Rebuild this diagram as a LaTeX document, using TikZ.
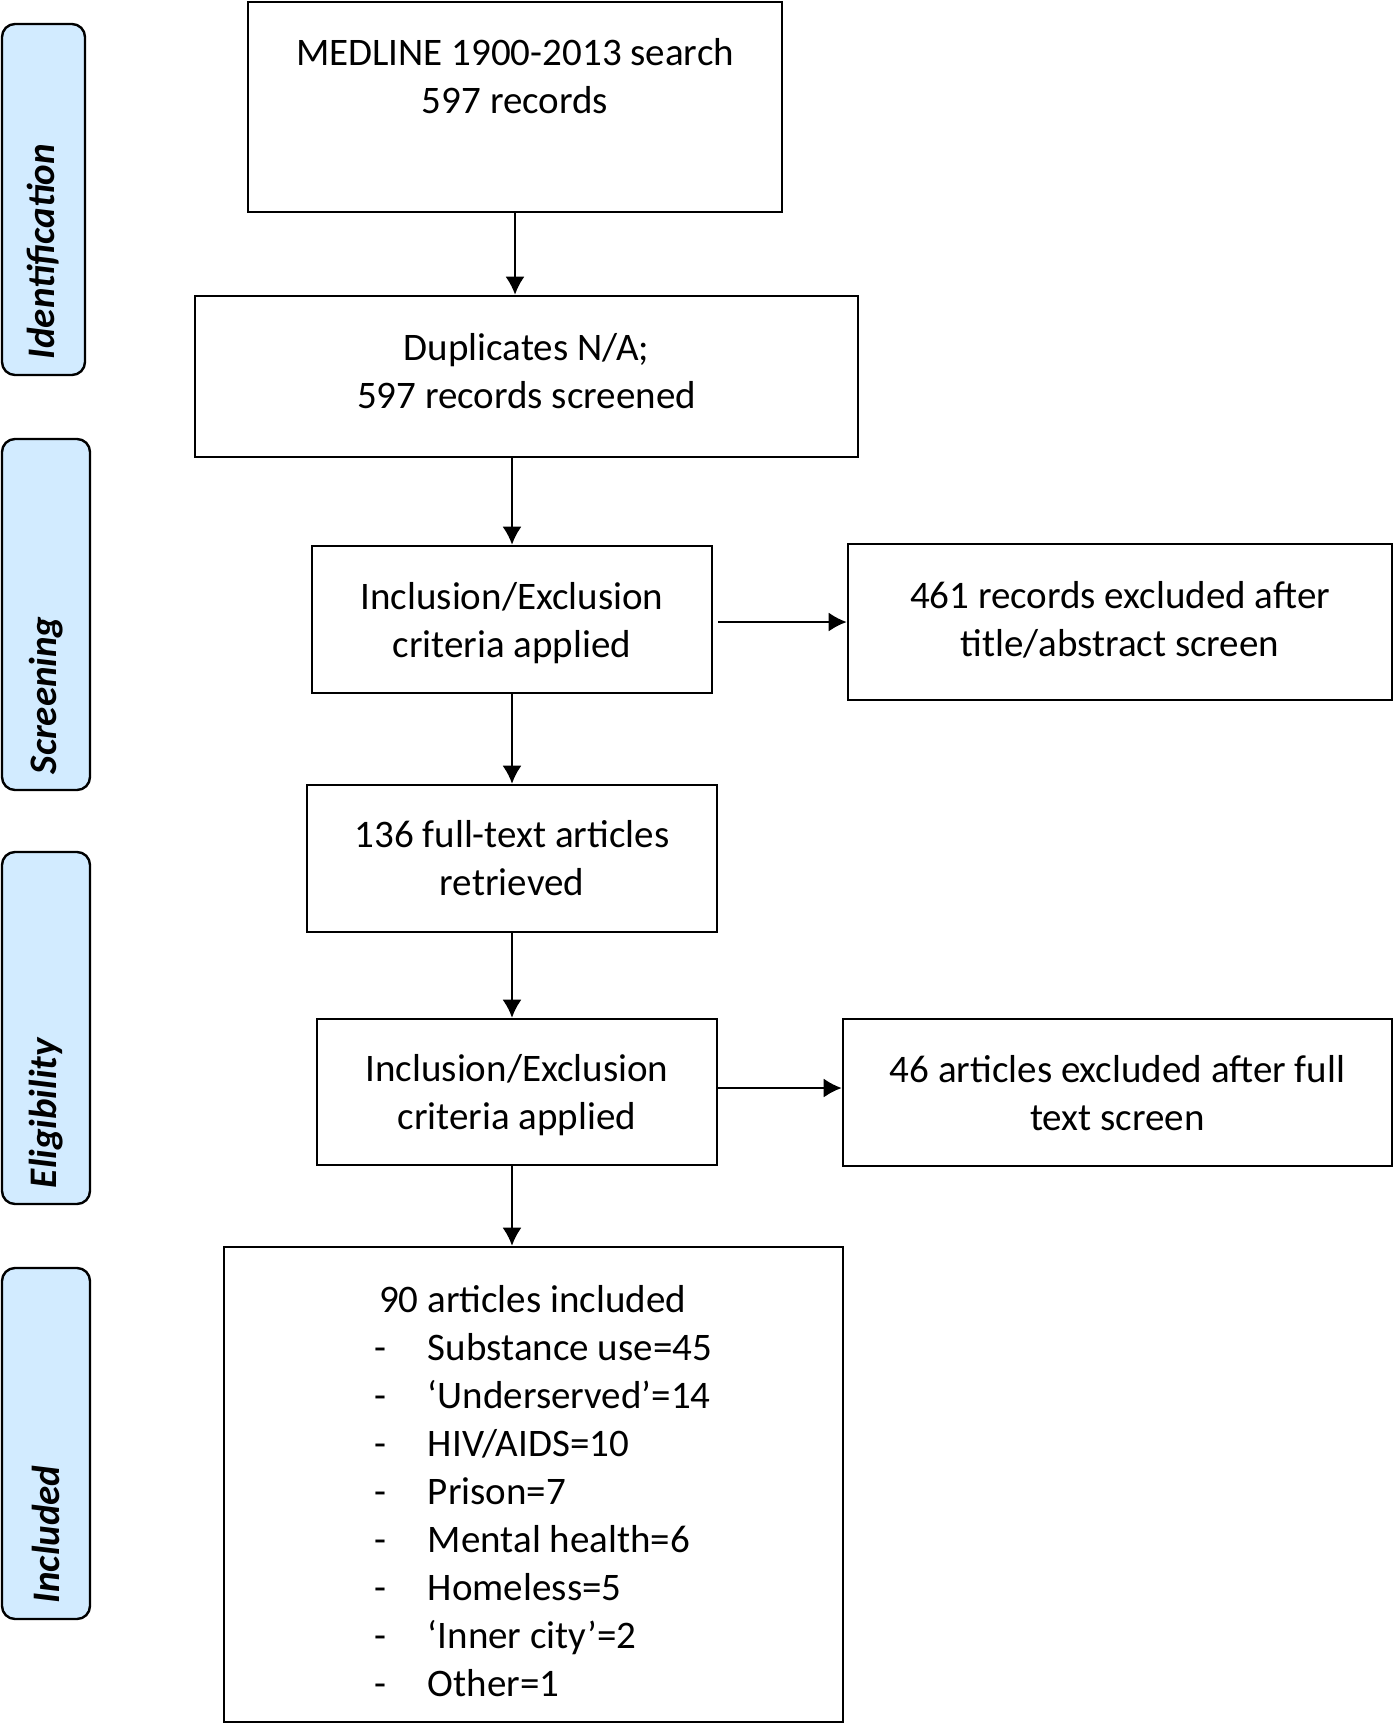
\documentclass[tikz,border=0pt]{standalone}
\usepackage{fontspec}
\setmainfont{Carlito}
\usetikzlibrary{positioning}
\usetikzlibrary{calc}
\usetikzlibrary{arrows.meta}

\definecolor{stagefill}{RGB}{210,235,255}

% one line of the list in the last box
\newcommand{\incitem}[1]{\hspace*{150pt}\makebox[54pt][l]{-}#1}

\begin{document}
\begin{tikzpicture} [x=1pt,y=-1pt,
            box/.style={draw=black,line width=2.6pt,rectangle,align=center,inner sep=0pt},
            stage/.style={draw=black,line width=2.4pt,fill=stagefill,rounded corners=13pt,
                          rotate=90,inner xsep=16pt,inner ysep=0pt,align=flush left},
            arr/.style={-{Latex[length=18pt,width=19pt]},line width=2pt},
         every node/.append style={font=\fontsize{39}{48}\selectfont}]
\useasboundingbox (0,0) rectangle (1394,1724);

%stages on the left
\node (ident) at (43.5,199.5) [stage,text width=319pt,minimum height=83pt]
   {\fontsize{39}{48}\selectfont\bfseries\itshape Identification};
\node (scrn) at (46,614.5) [stage,text width=319pt,minimum height=88pt]
   {\fontsize{39}{48}\selectfont\bfseries\itshape Screening};
\node (elig) at (46,1028) [stage,text width=320pt,minimum height=88pt]
   {\fontsize{39}{48}\selectfont\bfseries\itshape Eligibility};
\node (incl) at (46,1443.5) [stage,text width=319pt,minimum height=88pt]
   {\fontsize{39}{48}\selectfont\bfseries\itshape Included};

%search
\node (srch) at (515,107) [box,minimum width=534pt,minimum height=210pt,text depth=63pt]
   {MEDLINE 1900-2013 search\\597 records};
\node (dupl) at (526.5,376.5) [box,minimum width=663pt,minimum height=161pt,text depth=11pt]
   {Duplicates N/A;\\597 records screened};
\draw [arr] (srch) -- (srch |- dupl.north);

%screening
\node (crit1) at (512,619.5) [box,minimum width=400pt,minimum height=147pt,text depth=-6pt]
   {Inclusion/Exclusion\\criteria applied};
\node (excl1) at (1120,622) [box,minimum width=544pt,minimum height=156pt,text depth=6pt]
   {461 records excluded after\\title/abstract screen};
\draw [arr] (dupl.south -| crit1) -- (crit1);
\draw [arr,shorten <=5pt] (crit1.east |- excl1) -- (excl1);

%eligibility
\node (fulltxt) at (512,858.5) [box,minimum width=410pt,minimum height=147pt]
   {136 full-text articles\\retrieved};
\node (crit2) at (517,1092) [box,minimum width=400pt,minimum height=146pt,text depth=-8pt]
   {Inclusion/Exclusion\\criteria applied};
\node (excl2) at (1117.5,1092.5) [box,minimum width=549pt,minimum height=147pt,text depth=-4pt]
   {46 articles excluded after full\\text screen};
\draw [arr] (crit1) -- (fulltxt);
\draw [arr] (fulltxt) -- (fulltxt |- crit2.north);
\draw [arr] ([yshift=4pt]crit2.east) -- ([yshift=4pt]crit2.east -| excl2.west);

%included
\node (done) at (533.5,1484.5) [box,text width=619pt,align=flush left,minimum height=475pt,text height=40pt]
   {\hspace*{155pt}90 articles included\\
    \incitem{Substance use=45}\\
    \incitem{‘Underserved’=14}\\
    \incitem{HIV/AIDS=10}\\
    \incitem{Prison=7}\\
    \incitem{Mental health=6}\\
    \incitem{Homeless=5}\\
    \incitem{‘Inner city’=2}\\
    \incitem{Other=1}};
\draw [arr] (crit2.south -| fulltxt) -- (fulltxt |- done.north);

\end{tikzpicture}
\end{document}
